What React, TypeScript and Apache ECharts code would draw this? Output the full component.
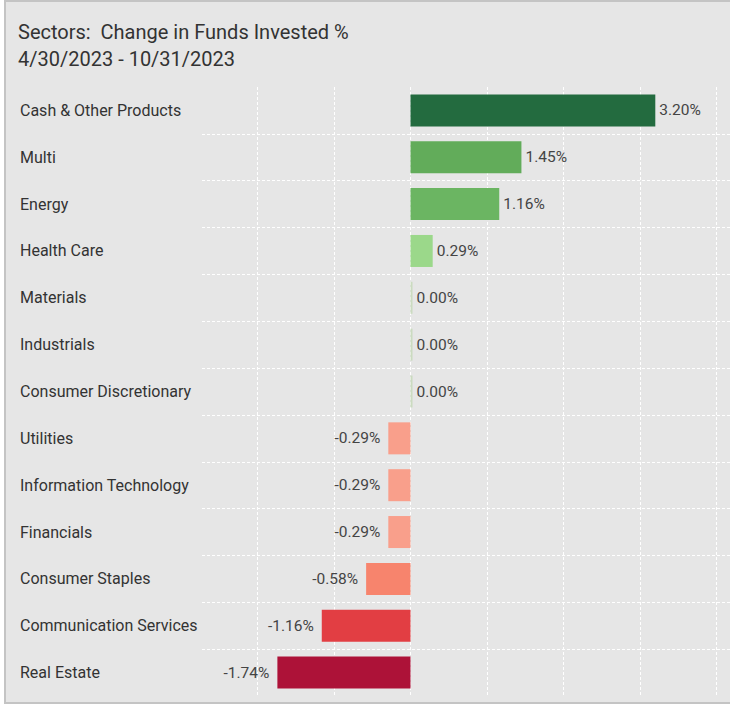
import React, { useEffect, useRef } from "react";
import * as echarts from "echarts";

const categories = [
  "Cash & Other Products",
  "Multi",
  "Energy",
  "Health Care",
  "Materials",
  "Industrials",
  "Consumer Discretionary",
  "Utilities",
  "Information Technology",
  "Financials",
  "Consumer Staples",
  "Communication Services",
  "Real Estate",
];
const values = [3.2, 1.45, 1.16, 0.29, 0, 0, 0, -0.29, -0.29, -0.29, -0.58, -1.16, -1.74];
const barColors = [
  "#236B3F",
  "#62AC5A",
  "#6BB562",
  "#9BD88A",
  "#CBDBC0",
  "#CBDBC0",
  "#CBDBC0",
  "#F99F8B",
  "#F99F8B",
  "#F99F8B",
  "#F7846D",
  "#E23E43",
  "#AD1238",
];
const xMin = -2;
const xMax = 4;
const xStep = 1;
const titleLines = ["Sectors:  Change in Funds Invested %", "4/30/2023 - 10/31/2023"];

const FONT = "Roboto, 'Noto Sans', sans-serif";
const gridLine = { color: "#ffffff", type: [3, 2] as number[], width: 1 };

export default function App() {
  const ref = useRef<HTMLDivElement>(null);
  useEffect(() => {
    document.body.style.margin = "0";
    document.body.style.background = "#ffffff";
    if (!ref.current) return;
    const chart = echarts.init(ref.current, undefined, { renderer: "svg" });
    chart.setOption({
      animation: false,
      backgroundColor: "transparent",
      title: {
        text: titleLines.join("\n"),
        left: 13,
        top: 13,
        textStyle: {
          fontFamily: FONT,
          fontSize: 20,
          fontWeight: "normal",
          color: "#333333",
          lineHeight: 27,
        },
      },
      grid: [
        { left: 202, right: 0, top: 87, height: 609, containLabel: false },
        { left: 257.5, right: 13.5, top: 87, height: 609, containLabel: false },
      ],
      xAxis: [
        { gridIndex: 0, type: "value", min: 0, max: 1, show: false },
        {
          gridIndex: 1,
          type: "value",
          min: xMin,
          max: xMax,
          interval: xStep,
          axisLine: { show: false },
          axisTick: { show: false },
          axisLabel: { show: false },
          splitLine: { show: true, lineStyle: gridLine },
        },
      ],
      yAxis: [
        {
          gridIndex: 0,
          type: "category",
          data: categories,
          inverse: true,
          axisLine: { show: false },
          axisTick: { show: false },
          axisLabel: { show: false },
          splitLine: { show: true, showMinLine: false, showMaxLine: false, lineStyle: gridLine },
        },
        {
          gridIndex: 1,
          type: "category",
          data: categories,
          inverse: true,
          axisLine: { show: false },
          axisTick: { show: false },
          splitLine: { show: false },
          axisLabel: {
            align: "left",
            margin: 237.5,
            fontFamily: FONT,
            fontSize: 16,
            color: "#333333",
          },
        },
      ],
      series: [
        {
          type: "bar",
          xAxisIndex: 1,
          yAxisIndex: 1,
          barWidth: 32,
          barMinHeight: 2,
          data: values.map((v, i) => ({
            value: v,
            itemStyle: { color: barColors[i] },
            label: {
              show: true,
              position: v < 0 ? "left" : "right",
              distance: v < 0 ? 8 : 4,
              formatter: () => v.toFixed(2) + "%",
              fontFamily: FONT,
              fontSize: 15.5,
              color: "#444444",
            },
          })),
        },
      ],
    });
    return () => chart.dispose();
  }, []);
  return (
    <div style={{ position: "fixed", left: 0, top: 0, width: 730, height: 707 }}>
      <div
        style={{
          position: "absolute",
          left: 4,
          top: 0,
          width: 740,
          height: 700,
          border: "2px solid #c4c4c4",
          background: "#e6e6e6",
        }}
      />
      <div ref={ref} style={{ position: "absolute", left: 0, top: 0, width: 730, height: 707 }} />
    </div>
  );
}
